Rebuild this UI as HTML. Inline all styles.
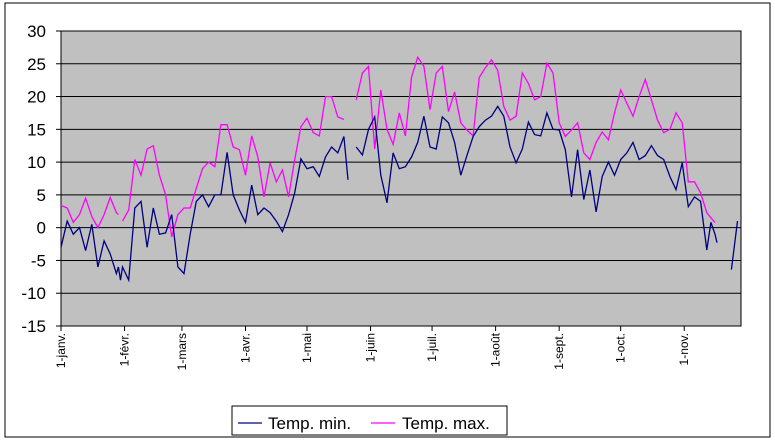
<!DOCTYPE html>
<html><head><meta charset="utf-8"><style>
body{margin:0;background:#fff;}
svg{display:block;font-family:"Liberation Sans",Arial,sans-serif;}
</style></head><body>
<svg width="775" height="443" viewBox="0 0 775 443">
<rect x="5" y="3" width="765" height="434" fill="#fff" stroke="#000" stroke-width="1"/>
<g id="plot"></g>
</svg>
<script>
const days=[0,3,6,9,12,15,18,21,24,27,28,29,30,33,36,39,42,45,48,51,54,57,60,63,66,69,72,75,78,81,84,87,90,93,96,99,102,105,108,111,114,117,120,123,126,129,132,135,138,140,141,143,144,147,150,153,156,159,162,165,168,171,174,177,180,183,186,189,192,195,198,201,204,207,210,213,216,219,222,225,228,231,234,237,240,243,246,249,252,255,258,261,264,267,270,273,276,279,282,285,288,291,294,297,300,303,306,309,312,315,317,319,320,321,327,330];
const tMin=[-3,1,-1,0,-3.5,0.5,-6,-2,-4,-7,-6,-8,-6,-8,3,4,-3,3,-1,-0.8,2,-6,-7,-1,4,5,3.2,5,5,11.5,5,2.7,0.8,6.5,2,3,2.3,1,-0.6,2,5.3,10.5,9,9.3,7.8,10.8,12.3,11.4,13.9,7.3,null,null,12.3,11.1,15,16.9,8,3.8,11.4,9,9.3,10.8,13,17,12.3,12,16.9,16,13,8,11,13.9,15.4,16.4,17,18.5,17,12.3,9.9,12,16.1,14.2,14,17.5,15,14.9,11.9,4.7,11.9,4.3,8.8,2.4,7.8,10,8,10.4,11.4,13,10.4,11,12.5,11,10.4,7.8,5.8,9.9,3.2,4.7,4,-3.4,0.8,-1,-2.3,null,-6.4,1];
const tMax=[3.4,3,0.8,2,4.5,1.7,0,2,4.6,2.3,2,null,1,2.7,10.4,8,12,12.5,8,5,-1.4,2,3,3,6,9,10,9.3,15.7,15.7,12.3,11.9,8,14,10.8,4.7,9.9,7,8.8,4.7,10.4,15.4,16.7,14.5,14,20,20,16.9,16.5,null,null,null,19.5,23.6,24.6,12,21,15,12.7,17.5,14,23,26,24.6,18,23.6,24.6,17.7,20.7,16,14.9,14,22.9,24.4,25.6,24,18.5,16.4,17,23.6,22,19.5,20,25.1,23.6,16,13.9,14.9,16,11.4,10.4,13,14.6,13.4,17.5,21,19,17,20,22.6,19.5,16.4,14.5,15,17.5,16,7,7,5.3,2.3,1.5,0.8,null,null,null,null];
const yTicks=[30,25,20,15,10,5,0,-5,-10,-15];
const monthLabels=["1-janv.","1-févr.","1-mars","1-avr.","1-mai","1-juin","1-juil.","1-août","1-sept.","1-oct.","1-nov."];
const monthDays=[0,31,59,90,120,151,181,212,243,273,304];

const NS="http://www.w3.org/2000/svg";
const L=61,R=741,T=31,B=326,yMax=30,yMinV=-15,dayMax=331.7;
const xS=d=>L+d*(R-L)/dayMax;
const yS=v=>T+(yMax-v)*(B-T)/(yMax-yMinV);
const g=document.getElementById('plot');
function mk(tag,attrs){const e=document.createElementNS(NS,tag);for(const k in attrs)e.setAttribute(k,attrs[k]);g.appendChild(e);return e;}

const bg=mk('rect',{x:L,y:T,width:R-L,height:B-T,fill:'#c0c0c0'});



yTicks.forEach(v=>{
  const y=yS(v);
  const gl=mk('line',{x1:L,x2:R,y1:y,y2:y,stroke:'#000','stroke-width':1});
  
  
  const tk=mk('line',{x1:L-5,x2:L,y1:y,y2:y,stroke:'#000'});
  
  
  const t=mk('text',{x:L-15,y:y+6,'text-anchor':'end','font-size':17});
  t.textContent=String(v);
  
  
});
const bd=mk('rect',{x:L,y:T,width:R-L,height:B-T,fill:'none',stroke:'#000'});



monthDays.forEach((d,i)=>{
  const x=xS(d);
  const tk=mk('line',{x1:x,x2:x,y1:B,y2:B+5,stroke:'#000'});
  
  
  const t=mk('text',{x:0,y:0,'text-anchor':'end','font-size':12,transform:`translate(${x+4},${B+7}) rotate(-90)`});
  t.textContent=monthLabels[i];
  
  
});

function series(vals,color,name){
  let segs=[],cur=[];
  vals.forEach((v,i)=>{
    if(v===null){if(cur.length)segs.push(cur);cur=[];}
    else cur.push(xS(days[i]).toFixed(1)+','+yS(v).toFixed(1));
  });
  if(cur.length)segs.push(cur);
  segs.forEach(s=>{
    const p=mk('polyline',{points:s.join(' '),fill:'none',stroke:color,'stroke-width':1.3});
    
    
  });
}
series(tMax,'#ff00ff','max-temp-line');
series(tMin,'#000080','min-temp-line');

const lg=mk('rect',{x:232,y:406,width:275,height:29,fill:'#fff',stroke:'#000'});


const l1=mk('line',{x1:238,x2:262,y1:423,y2:423,stroke:'#000080','stroke-width':1.3});


const t1=mk('text',{x:268,y:429,'font-size':17});
t1.textContent='Temp. min.';


const l2=mk('line',{x1:371,x2:395,y1:423,y2:423,stroke:'#ff00ff','stroke-width':1.3});


const t2=mk('text',{x:402,y:429,'font-size':17});
t2.textContent='Temp. max.';


</script>
</body></html>
